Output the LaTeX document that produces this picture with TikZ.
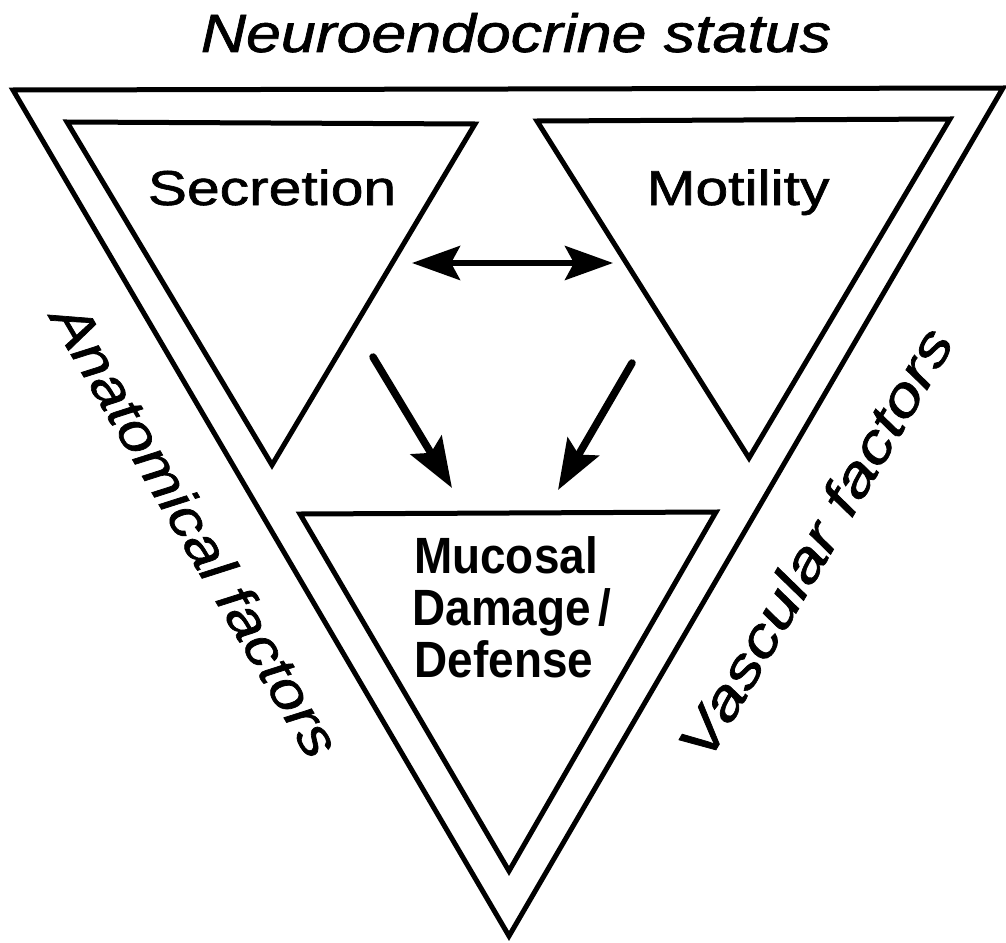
\documentclass[tikz,border=0pt]{standalone}
\usepackage{fontspec}
\usepackage{graphicx}
\setmainfont{Liberation Sans}
\usetikzlibrary{arrows.meta}
\begin{document}
\begin{tikzpicture}[x=1pt,y=-1pt,
  tri/.style={line width=5pt,line join=miter},
  arr/.style={line width=7.5pt,line cap=round,-{Stealth[length=50pt,width=36pt,inset=9pt]}},
  darr/.style={line width=6pt,{Stealth[length=48pt,width=34pt,inset=9pt]}-{Stealth[length=48pt,width=34pt,inset=9pt]}},
  itlab/.style={font=\fontsize{54}{60}\selectfont\itshape\addfontfeature{FakeBold=1.2},inner sep=0pt},
  boxlab/.style={font=\fontsize{49}{56}\selectfont\addfontfeature{FakeBold=1.2},inner sep=0pt,anchor=base},
  mlab/.style={font=\fontsize{51}{56}\selectfont\bfseries,inner sep=0pt,anchor=base}]
\useasboundingbox (0,0) rectangle (1006,942);
% outer triangle
\coordinate (o1) at (13,90);
\coordinate (o2) at (1003,88);
\coordinate (o3) at (509,936);
\draw[tri] (o1) -- (o2) -- (o3) -- cycle;
% secretion triangle
\coordinate (s1) at (67,122);
\coordinate (s2) at (475,124);
\coordinate (s3) at (272,465);
\draw[tri] (s1) -- (s2) -- (s3) -- cycle;
% motility triangle
\coordinate (t1) at (537,121);
\coordinate (t2) at (950,119);
\coordinate (t3) at (749,458);
\draw[tri] (t1) -- (t2) -- (t3) -- cycle;
% mucosal triangle
\coordinate (u1) at (300,514);
\coordinate (u2) at (716,512);
\coordinate (u3) at (509,871);
\draw[tri] (u1) -- (u2) -- (u3) -- cycle;
% labels
\node[itlab,anchor=base] (neuro) at (516,52) {\scalebox{1.16}[1]{Neuroendocrine status}};
\node[boxlab] (sec) at (272,205) {\scalebox{1.2}[1]{Secretion}};
\node[boxlab] (mot) at (738,205) {\scalebox{1.2}[1]{Motility}};
\node[mlab] (m1) at (506,573) {\scalebox{0.9}[1]{Mucosal}};
\node[mlab] (m2) at (512,625) {\scalebox{0.9}[1]{Damage\,/}};
\node[mlab] (m3) at (504,677) {\scalebox{0.9}[1]{Defense}};
\node[itlab,rotate=-59.6] (anat) at (196,530) {\scalebox{1.16}[1]{Anatomical factors}};
\node[itlab,rotate=59.6] (vasc) at (815,543) {\scalebox{1.27}[1]{Vascular factors}};
% arrows
\coordinate (a1) at (412,263);
\coordinate (a2) at (613,263);
\draw[darr] (a1) -- (a2);
\coordinate (b1) at (373,357);
\coordinate (b2) at (452,488);
\draw[arr] (b1) -- (b2);
\coordinate (c1) at (632,363);
\coordinate (c2) at (558,490);
\draw[arr] (c1) -- (c2);
\end{tikzpicture}
\end{document}
